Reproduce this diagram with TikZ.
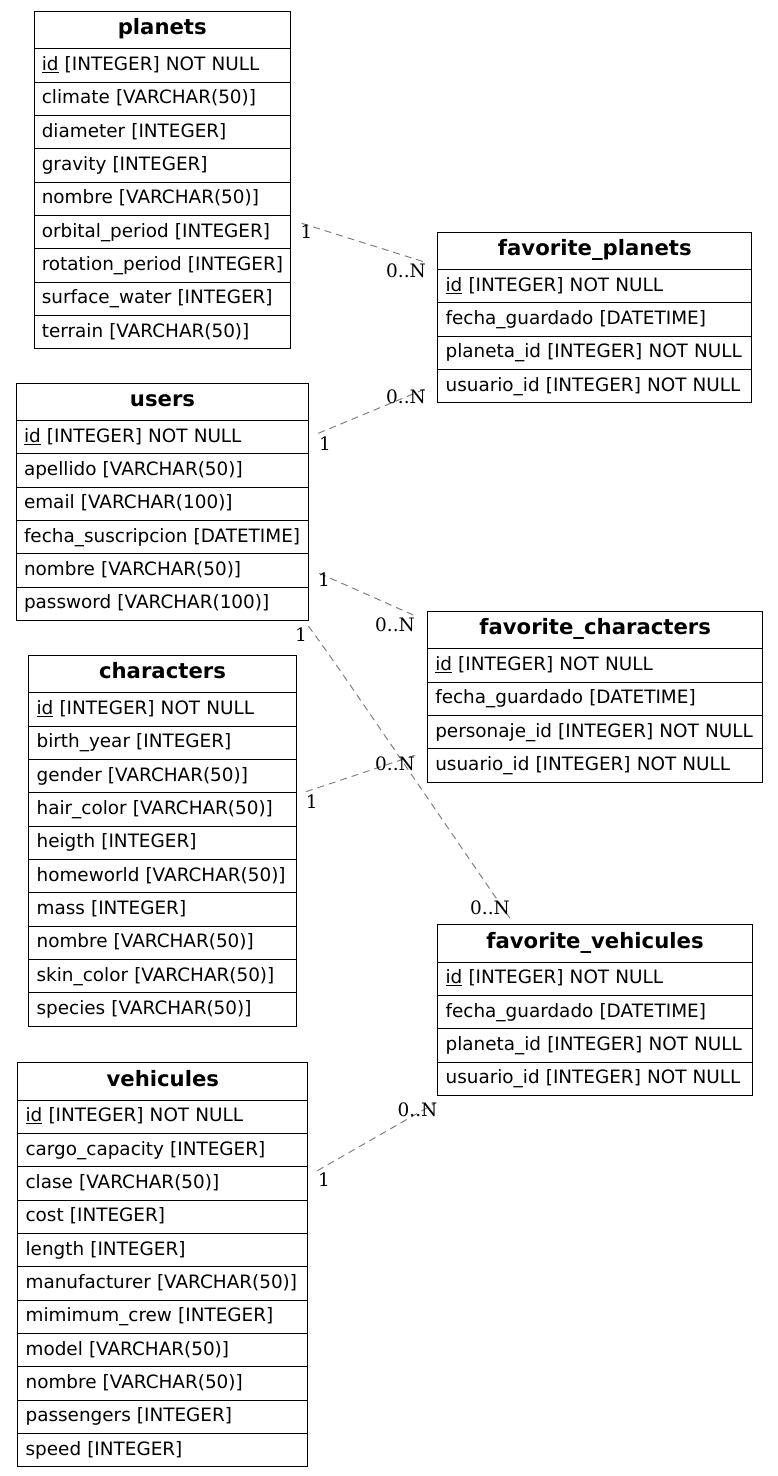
\documentclass[tikz,border=0pt]{standalone}
\usepackage{fontspec}
\setmainfont{DejaVu Sans}
\newfontfamily\lblfont{DejaVu Serif}
\usetikzlibrary{calc}
\definecolor{edgegray}{RGB}{128,128,128}
\tikzset{
  hdrbox/.style={draw=black, line width=1pt, inner xsep=0pt, inner ysep=0pt,
    minimum height=37.3pt, text height=14.6pt, text depth=5.4pt,
    font=\fontsize{21.2}{25}\selectfont\bfseries, anchor=north west},
  rowbox/.style={draw=black, line width=1pt, inner xsep=7.8pt, inner ysep=0pt,
    minimum height=33.33pt, text height=15pt, text depth=5pt, align=left,
    font=\fontsize{18.4}{22}\selectfont, anchor=north west},
  rel/.style={draw=edgegray, line width=1pt, dash pattern=on 7pt off 5pt},
  card/.style={font=\lblfont\fontsize{18.5}{22}\selectfont, inner sep=0pt, text=black}
}
\newcommand{\erdtable}[6]{%
  \node[hdrbox, minimum width=#4pt] (#1) at (#2,#3) {#5};
  \foreach \r [count=\i] in {#6} {
    \pgfmathsetmacro\yy{#3+37.3+(\i-1)*33.333}
    \pgfmathsetmacro\tw{#4-15.6}
    \node[rowbox, text width=\tw pt] (#1-\i) at (#2,\yy) {\mbox{\r}};
  }%
}
\begin{document}
\begin{tikzpicture}[x=1pt,y=-1pt]
\useasboundingbox (0,0) rectangle (777,1476);

\erdtable{planets}{33.5}{11}{256.5}{planets}{%
  \underline{id} [INTEGER] NOT NULL,climate [VARCHAR(50)],diameter [INTEGER],gravity [INTEGER],nombre [VARCHAR(50)],orbital\_period [INTEGER],rotation\_period [INTEGER],surface\_water [INTEGER],terrain [VARCHAR(50)]}

\erdtable{favplanets}{437.3}{231.7}{314}{favorite\_planets}{%
  \underline{id} [INTEGER] NOT NULL,fecha\_guardado [DATETIME],planeta\_id [INTEGER] NOT NULL,usuario\_id [INTEGER] NOT NULL}

\erdtable{users}{15.7}{382.7}{292.6}{users}{%
  \underline{id} [INTEGER] NOT NULL,apellido [VARCHAR(50)],email [VARCHAR(100)],fecha\_suscripcion [DATETIME],nombre [VARCHAR(50)],password [VARCHAR(100)]}

\erdtable{favchars}{427}{611}{335.3}{favorite\_characters}{%
  \underline{id} [INTEGER] NOT NULL,fecha\_guardado [DATETIME],personaje\_id [INTEGER] NOT NULL,usuario\_id [INTEGER] NOT NULL}

\erdtable{characters}{28.3}{655}{267.4}{characters}{%
  \underline{id} [INTEGER] NOT NULL,birth\_year [INTEGER],gender [VARCHAR(50)],hair\_color [VARCHAR(50)],heigth [INTEGER],homeworld [VARCHAR(50)],mass [INTEGER],nombre [VARCHAR(50)],skin\_color [VARCHAR(50)],species [VARCHAR(50)]}

\erdtable{favvehicules}{437.3}{924.3}{314.4}{favorite\_vehicules}{%
  \underline{id} [INTEGER] NOT NULL,fecha\_guardado [DATETIME],planeta\_id [INTEGER] NOT NULL,usuario\_id [INTEGER] NOT NULL}

\erdtable{vehicules}{17.3}{1062.3}{290}{vehicules}{%
  \underline{id} [INTEGER] NOT NULL,cargo\_capacity [INTEGER],clase [VARCHAR(50)],cost [INTEGER],length [INTEGER],manufacturer [VARCHAR(50)],mimimum\_crew [INTEGER],model [VARCHAR(50)],nombre [VARCHAR(50)],passengers [INTEGER],speed [INTEGER]}

% connector end points (ports just outside the tables)
\coordinate (e1a) at (301.7,223.3);
\coordinate (e1b) at (426.7,262.7);
\coordinate (e2a) at (318.3,433.3);
\coordinate (e2b) at (426.7,388.3);
\coordinate (e3a) at (319.3,573.3);
\coordinate (e3b) at (413.3,615);
\coordinate (e4a) at (308.3,626);
\coordinate (e4b) at (510,918.3);
\coordinate (e5a) at (306,791.7);
\coordinate (e5b) at (416,755);
\coordinate (e6a) at (317.3,1170.7);
\coordinate (e6b) at (435,1103.3);

\draw[rel] (e1a) -- (e1b);
\draw[rel] (e2a) -- (e2b);
\draw[rel] (e3a) -- (e3b);
\draw[rel] (e4a) .. controls (335,662) and (352,688) .. (e4b);
\draw[rel] (e5a) -- (e5b);
\draw[rel] (e6a) -- (e6b);

\node[card] (l1a) at (306.5,231.5) {1};
\node[card] (l1b) at (406,271) {0..N};
\node[card] (l2a) at (325,443.3) {1};
\node[card] (l2b) at (406,396.7) {0..N};
\node[card] (l3a) at (324,580) {1};
\node[card] (l3b) at (395,624.5) {0..N};
\node[card] (l4a) at (301,634.5) {1};
\node[card] (l4b) at (490,907.5) {0..N};
\node[card] (l5a) at (311.7,801.7) {1};
\node[card] (l5b) at (395,764) {0..N};
\node[card] (l6a) at (324,1180) {1};
\node[card] (l6b) at (417.5,1110) {0..N};
\end{tikzpicture}
\end{document}
